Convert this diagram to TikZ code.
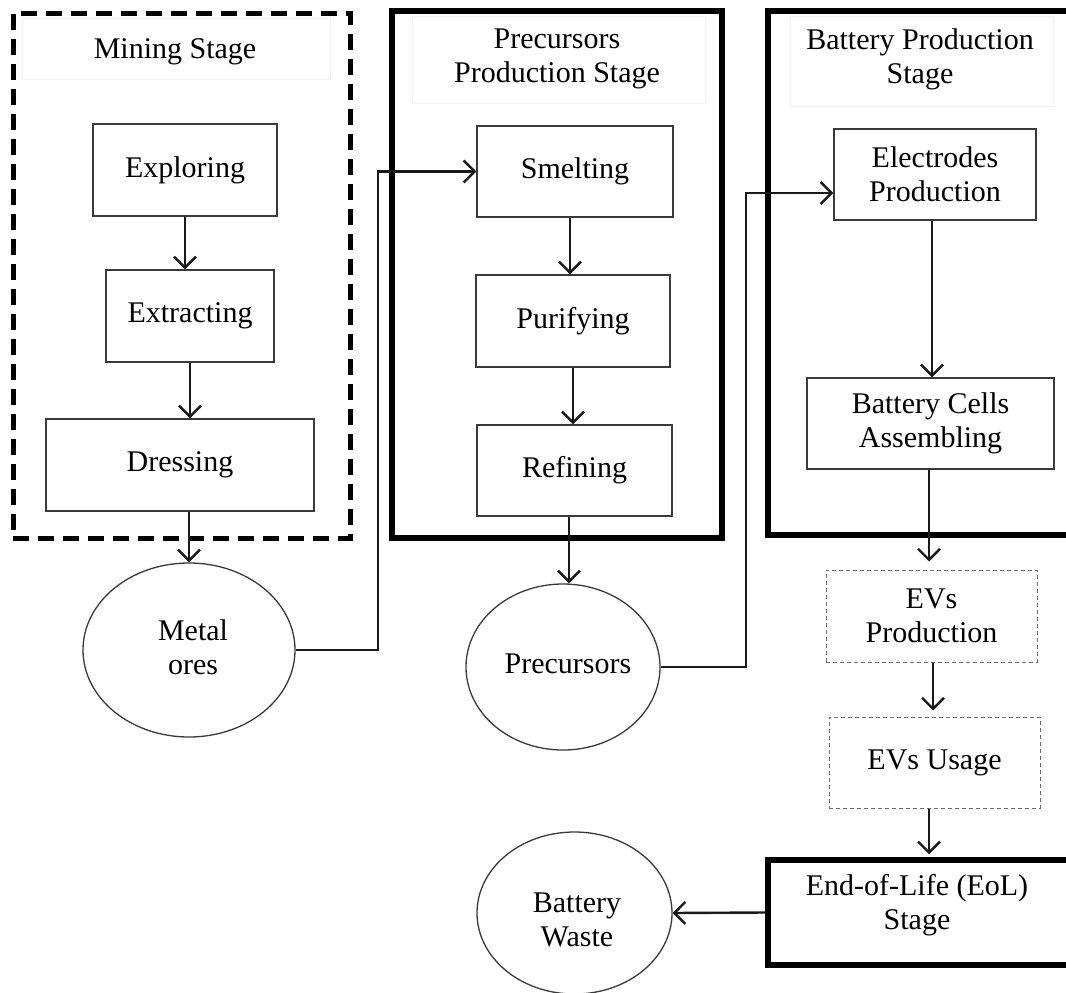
\documentclass[tikz,border=0pt]{standalone}
\usepackage{fontspec}
\setmainfont{Liberation Serif}
\usetikzlibrary{arrows.meta,shapes.geometric,calc}
\definecolor{edge}{HTML}{3A3A3A}
\definecolor{dashgray}{HTML}{6A6A6A}
\definecolor{faint}{HTML}{F0F0F0}
\tikzset{
  lbl/.style={font=\fontsize{30}{34}\selectfont, align=center, inner sep=0pt},
  procbox/.style={draw=edge, line width=1.3pt, rectangle, inner sep=0pt, align=center,
    font=\fontsize{30}{34}\selectfont},
  evbox/.style={draw=dashgray, line width=1pt, dash pattern=on 4pt off 3pt, rectangle,
    inner sep=0pt, align=center, font=\fontsize{30}{34}\selectfont},
  oval/.style={draw=edge, line width=1.3pt, ellipse, inner sep=0pt},
  stagebox/.style={draw=black, line width=5.5pt, rectangle, inner sep=0pt},
  minebox/.style={draw=black, line width=5pt, dash pattern=on 16pt off 9pt, rectangle, inner sep=0pt},
  titlebox/.style={draw=faint, line width=0.8pt, rectangle, inner sep=0pt},
  flow/.style={draw=black!90, line width=2.4pt, -{Straight Barb[length=11pt,width=22pt,line width=2.4pt]}},
}
\begin{document}
\begin{tikzpicture}[x=1pt,y=-1pt]
\useasboundingbox (0,0) rectangle (1066,993);
\clip (0,0) rectangle (1066,993);
\fill[white] (0,0) rectangle (1066,993);

% ---------- Mining stage ----------
\node[minebox, minimum width=337pt, minimum height=525pt] (mine) at (181.5,275.5) {};
\node[titlebox, minimum width=308pt, minimum height=61pt] (minet) at (176,48.5) {};
\node[lbl] (minelbl) at (175,52) {Mining Stage};
\node[procbox, minimum width=184pt, minimum height=92pt] (expl) at (185,170) {Exploring};
\node[procbox, minimum width=168pt, minimum height=92pt] (extr) at (190,316) {Extracting};
\node[procbox, minimum width=268pt, minimum height=92pt] (dress) at (180,465) {Dressing};
\node[oval, minimum width=212pt, minimum height=174pt] (mo) at (189,650) {};
\node[lbl] (molbl) at (193,647) {Metal\\ores};

% ---------- Precursors production stage ----------
\node[stagebox, minimum width=330pt, minimum height=527pt] (pstage) at (557,274.5) {};
\node[titlebox, minimum width=293pt, minimum height=87pt] (pstaget) at (558.5,59.5) {};
\node[lbl] (plbl) at (557,59) {Precursors\\Production Stage};
\node[procbox, minimum width=196pt, minimum height=91pt] (smelt) at (575,171.5) {Smelting};
\node[procbox, minimum width=194pt, minimum height=92pt] (purif) at (573,321) {Purifying};
\node[procbox, minimum width=195pt, minimum height=91pt] (refin) at (574.5,470.5) {Refining};
\node[oval, minimum width=194pt, minimum height=166pt] (prec) at (563,667) {};
\node[lbl] (preclbl) at (568,664) {Precursors};

% ---------- Battery production stage ----------
\node[stagebox, minimum width=322pt, minimum height=524pt] (bstage) at (929,273) {};
\node[titlebox, minimum width=263pt, minimum height=90pt] (bstaget) at (921.5,61) {};
\node[lbl] (blbl) at (920,59) {Battery Production\\Stage};
\node[procbox, minimum width=202pt, minimum height=91pt] (elec) at (935,174.5) {Electrodes\\Production};
\node[procbox, minimum width=247pt, minimum height=91pt] (cells) at (930.5,423.5) {Battery Cells\\Assembling};

% ---------- EVs and end of life ----------
\node[evbox, minimum width=211pt, minimum height=92pt] (evprod) at (931.5,616) {EVs\\Production};
\node[evbox, minimum width=211pt, minimum height=91pt] (evuse) at (934.5,762.5) {EVs Usage};
\node[stagebox, minimum width=322pt, minimum height=105pt] (eol) at (929,912.5) {};
\node[lbl] (eollbl) at (917,905) {End-of-Life (EoL)\\Stage};
\node[oval, minimum width=195pt, minimum height=162pt] (bw) at (574.5,913) {};
\node[lbl] (bwlbl) at (577,920) {Battery\\Waste};

% ---------- connectors ----------
\coordinate (c1) at (378,0);
\coordinate (c2) at (746,0);
\coordinate (elecin) at ($(elec.west)+(0,18.5)$);

\draw[flow] (expl.south) -- (expl.south |- extr.north);
\draw[flow] (extr.south) -- (extr.south |- dress.north);
\draw[flow] (mo.north |- dress.south) -- (mo.north);
\draw[flow] (mo.east) -- (mo.east -| c1) |- (smelt.west);

\draw[flow] ($(smelt.south)+(-5,0)$) -- ($(smelt.south |- purif.north)+(-5,0)$);
\draw[flow] (purif.south) -- (purif.south |- refin.north);
\draw[flow] (refin.south -| prec.north) ++(6,0) -- ($(prec.north)+(6,0)$);
\draw[flow] (prec.east) -- (prec.east -| c2) |- (elecin);

\draw[flow] ($(elec.south)+(-3,0)$) -- ($(elec.south |- cells.north)+(-3,0)$);
\draw[flow] ($(cells.south)+(-1.5,0)$) -- ($(cells.south |- evprod.north)+(-1.5,-8)$);
\draw[flow] ($(evprod.south)+(1.5,0)$) -- ($(evprod.south |- evuse.north)+(1.5,-6)$);
\draw[flow] ($(evuse.south)+(-5.5,0)$) -- ($(evuse.south |- eol.north)+(-5.5,-3)$);
\draw[flow] (eol.west) -- (bw.east);
\end{tikzpicture}
\end{document}
